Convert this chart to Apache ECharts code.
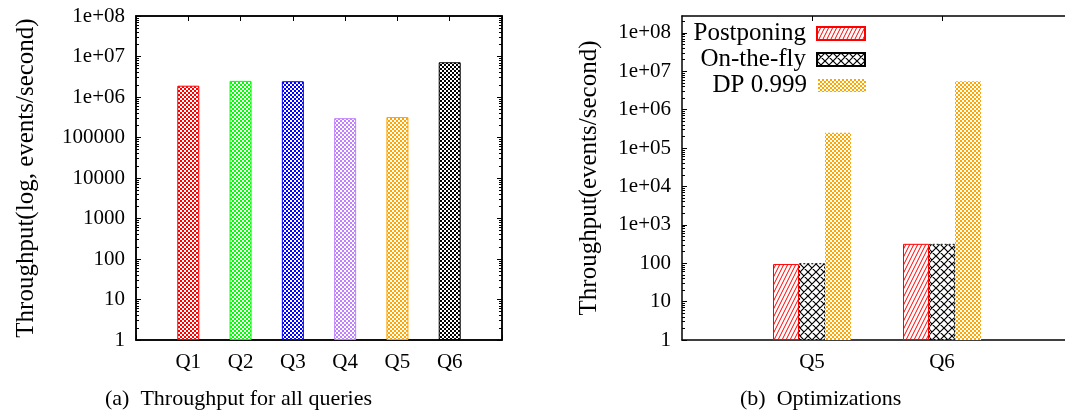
<!DOCTYPE html>
<html>
<head>
<meta charset="utf-8">
<script src="https://cdn.jsdelivr.net/npm/echarts@6/dist/echarts.min.js"></script>
<style>
  html, body { margin: 0; padding: 0; background: #fff; overflow: hidden; width: 1065px; height: 416px; }
  ::-webkit-scrollbar { display: none; width: 0; height: 0; }
  #chart { width: 1065px; height: 416px; }
</style>
</head>
<body>
<div id="chart"></div>
<script>
// Throughput of every query (events/second)
const queries = ['Q1', 'Q2', 'Q3', 'Q4', 'Q5', 'Q6'];
const allThroughput = [1.9e6, 2.5e6, 2.45e6, 3.0e5, 3.2e5, 7.2e6];

// Optimization comparison for Q5 and Q6
const optQueries = ['Q5', 'Q6'];
const postponing = [95, 320];
const onTheFly = [100, 320];
const dp999 = [2.5e5, 5.5e6];
const optSeriesNames = ['Postponing', 'On-the-fly', 'DP 0.999'];

// Tick labels, one per decade starting at 1
const leftTickLabels = ['1', '10', '100', '1000', '10000', '100000', '1e+06', '1e+07', '1e+08'];
const rightTickLabels = ['1', '10', '100', '1e+03', '1e+04', '1e+05', '1e+06', '1e+07', '1e+08'];

const FONT = 'Liberation Serif';
const queryColors = ['#ff0000', '#00ff00', '#0000ff', '#bf80ff', '#ffa500', '#000000'];

// ---- fill patterns ----
function tile(w, h, draw) {
  const c = document.createElement('canvas');
  c.width = w; c.height = h;
  const ctx = c.getContext('2d');
  ctx.fillStyle = '#fff';
  ctx.fillRect(0, 0, w, h);
  draw(ctx);
  return { image: c, repeat: 'repeat' };
}
function checker(color) {
  return tile(4, 4, ctx => {
    ctx.fillStyle = color;
    ctx.fillRect(0, 0, 2, 2);
    ctx.fillRect(2, 2, 2, 2);
  });
}
function hatch(color) {
  return tile(4, 8, ctx => {
    ctx.strokeStyle = color;
    ctx.lineWidth = 1;
    ctx.beginPath();
    for (const k of [0, 4, 8]) {
      ctx.moveTo(k - 4, 8); ctx.lineTo(k, 0);
    }
    ctx.stroke();
  });
}
function crossHatch(color) {
  return tile(8, 8, ctx => {
    ctx.strokeStyle = color;
    ctx.lineWidth = 1.2;
    ctx.beginPath();
    for (const k of [-8, 0, 8]) {
      ctx.moveTo(k, 8); ctx.lineTo(k + 8, 0);
      ctx.moveTo(k, 0); ctx.lineTo(k + 8, 8);
    }
    ctx.stroke();
  });
}

// the left category axis gets an empty slot on each side
const pad = arr => ['', ...arr, ''];
const padVals = arr => ['-', ...arr, '-'];

function logLabel(labels) {
  return v => {
    const i = Math.round(Math.log10(v));
    return Math.abs(Math.log10(v) - i) < 1e-6 && labels[i] !== undefined ? labels[i] : '';
  };
}

// minor ticks at 2..9 of every decade
function minorTickValues(decades, max) {
  const out = [];
  for (let d = 0; d < decades; d++) {
    for (let m = 2; m <= 9; m++) {
      const v = m * Math.pow(10, d);
      if (v < max) out.push(v);
    }
  }
  return out;
}

const tickStyle = { show: true, inside: true, length: 5, lineStyle: { color: '#000', width: 1 } };
const axisLineStyle = { show: true, onZero: false, lineStyle: { color: '#000', width: 1.5 } };
const labelStyle = { color: '#000', fontFamily: FONT, fontSize: 21 };

const grids = [
  { left: 136, top: 16, width: 366, height: 324, show: true, borderColor: '#000', borderWidth: 1.5, outerBoundsMode: 'none' },
  { left: 682, top: 16, width: 383, height: 324, show: false, outerBoundsMode: 'none' }
];

// right panel: queries sit at x = 0, 1 on a value axis running from -1
const optIdx = optQueries.map((q, i) => i);
const optXMax = 1.946;

const xAxes = [
  {
    type: 'category', gridIndex: 0, data: pad(queries), boundaryGap: false, position: 'bottom',
    axisLine: axisLineStyle, axisTick: tickStyle,
    axisLabel: { ...labelStyle, margin: 12, interval: 0 }, splitLine: { show: false }
  },
  {
    type: 'category', gridIndex: 0, data: pad(queries), boundaryGap: false, position: 'top',
    axisLine: axisLineStyle, axisTick: tickStyle, axisLabel: { show: false }, splitLine: { show: false }
  },
  {
    type: 'value', gridIndex: 1, min: -1, max: optXMax, position: 'bottom',
    axisLine: axisLineStyle,
    axisTick: { ...tickStyle, customValues: optIdx },
    axisLabel: { ...labelStyle, margin: 12, customValues: optIdx, formatter: v => optQueries[Math.round(v)] },
    splitLine: { show: false }
  },
  {
    type: 'value', gridIndex: 1, min: -1, max: optXMax, position: 'top',
    axisLine: axisLineStyle,
    axisTick: { ...tickStyle, customValues: optIdx },
    axisLabel: { show: false }, splitLine: { show: false }
  }
];

const yCommon = {
  type: 'log', logBase: 10, min: 1,
  axisLine: axisLineStyle, axisTick: tickStyle,
  splitLine: { show: false }
};
const rightMax = Math.pow(10, 8.44);
const yAxes = [];
yAxes.push({
  ...yCommon, gridIndex: 0, max: 1e8, splitNumber: 8, position: 'left',
  axisLabel: { ...labelStyle, margin: 11, formatter: logLabel(leftTickLabels) },
  name: 'Throughput(log, events/second)', nameLocation: 'middle', nameRotate: 90, nameGap: 97,
  nameTextStyle: { color: '#000', fontFamily: FONT, fontSize: 25 }
});
yAxes.push({
  ...yCommon, gridIndex: 0, max: 1e8, splitNumber: 8, position: 'right',
  axisLabel: { show: false }
});
yAxes.push({
  ...yCommon, gridIndex: 1, max: rightMax, splitNumber: 9, position: 'left',
  axisLabel: { ...labelStyle, margin: 11, showMaxLabel: false, formatter: logLabel(rightTickLabels) },
  name: 'Throughput(events/second)', nameLocation: 'middle', nameRotate: 90, nameGap: 80,
  nameTextStyle: { color: '#000', fontFamily: FONT, fontSize: 25 }
});
// minor tick axes (no line, no labels)
[[0, 1e8, 8, 'left'], [0, 1e8, 8, 'right'], [1, rightMax, 9, 'left']].forEach(([g, max, dec, pos]) => {
  yAxes.push({
    type: 'log', logBase: 10, min: 1, max: max, gridIndex: g, position: pos,
    axisLine: { show: false, onZero: false }, axisLabel: { show: false }, splitLine: { show: false },
    axisTick: { show: true, inside: true, length: 3, customValues: minorTickValues(dec, max),
      lineStyle: { color: '#000', width: 1 } }
  });
});

const allData = padVals(allThroughput).map((v, i) => {
  if (v === '-') return v;
  const c = queryColors[i - 1];
  return { value: v, itemStyle: { color: checker(c), borderColor: c, borderWidth: 1 } };
});

const optStyles = [
  { color: hatch('#ff0000'), borderColor: '#ff0000', borderWidth: 1 },
  { color: crossHatch('#000000'), borderColor: '#000000', borderWidth: 1, borderType: [2, 2] },
  { color: checker('#ffa500'), borderColor: '#ffa500', borderWidth: 0 }
];

const series = [
  { type: 'bar', xAxisIndex: 0, yAxisIndex: 0, data: allData, barWidth: 22, silent: true }
];
[postponing, onTheFly, dp999].forEach((vals, i) => {
  series.push({
    type: 'bar', name: optSeriesNames[i], xAxisIndex: 2, yAxisIndex: 2,
    data: vals.map((v, j) => [optIdx[j], v]),
    barWidth: 26, barGap: '0%', itemStyle: optStyles[i], silent: true
  });
});

// each legend entry is right-aligned at the icon's right edge
const legends = optSeriesNames.map((n, i) => ({
  data: [n], orient: 'vertical', align: 'right', icon: 'rect',
  right: 1065 - 866, top: 21 + 26 * i, padding: 0,
  itemWidth: 48, itemHeight: 13, selectedMode: false,
  textStyle: { color: '#000', fontFamily: FONT, fontSize: 25, padding: [0, 6, 0, 0] }
}));

const chart = echarts.init(document.getElementById('chart'), null, { renderer: 'canvas' });
chart.setOption({
  animation: false,
  backgroundColor: '#fff',
  grid: grids,
  xAxis: xAxes,
  yAxis: yAxes,
  legend: legends,
  series: series,
  graphic: [
    { type: 'text', left: 105, top: 388, style: { text: '(a)  Throughput for all queries', fill: '#000', font: '22px "Liberation Serif"' } },
    { type: 'text', left: 740, top: 388, style: { text: '(b)  Optimizations', fill: '#000', font: '22px "Liberation Serif"' } }
  ]
});
</script>
</body>
</html>
